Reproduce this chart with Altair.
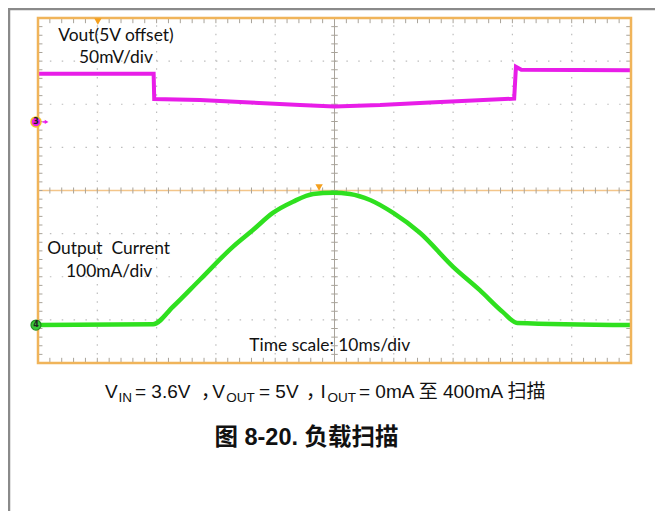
import altair as alt
import numpy as np
import pandas as pd

# ---------------- data ----------------
# time in ms (10 ms/div, 10 divisions), amplitude in screen divisions (0..8)
vout_t = [0, 19.5, 19.6, 27.3, 35.8, 44.2, 50.0, 57.7, 66.1, 80.3, 80.6, 81.5, 100]
vout_div = [6.71, 6.71, 6.12, 6.10, 6.04, 5.98, 5.95, 5.98, 6.04, 6.13, 6.87, 6.80, 6.79]

iout_t = [0, 19.4, 22.8, 27.3, 32.9, 36.3, 39.6, 43.0, 46.4, 49.7, 52.6, 56.0,
          59.9, 64.4, 70.0, 74.5, 78.4, 80.8, 100]
iout_div = [0.88, 0.90, 1.31, 1.93, 2.70, 3.09, 3.48, 3.74, 3.92, 3.95, 3.92, 3.78,
            3.48, 3.02, 2.23, 1.69, 1.18, 0.93, 0.88]

labels = ["Vout(5V offset)", "50mV/div", "Output\u00a0 Current", "100mA/div", "Time scale: 10ms/div"]
label_t = [13.15, 13.15, 11.9, 12.0, 49.2]
label_div = [7.47, 6.95, 2.53, 2.0, 0.285]

# ---------------- scales ----------------
W, H = 593, 345
xs = alt.Scale(domain=[0, 100], nice=False, zero=False)
ys = alt.Scale(domain=[0, 8], nice=False, zero=False)

FRAME = "#f0b45a"
GRID = "#bdbdbd"
TICK = "#a8a39a"
MAG = "#e81de8"
GRN = "#2fe01f"
FONT = "Lato"


def X(f="x"):
    return alt.X(f, type="quantitative", scale=xs, axis=None)


def Y(f="y"):
    return alt.Y(f, type="quantitative", scale=ys, axis=None)


layers = []

# dotted grid
hg = pd.DataFrame({"y": [1, 2, 3, 5, 6, 7], "x": 0, "x2": 100})
layers.append(alt.Chart(hg).mark_rule(color=GRID, strokeWidth=1.2, strokeDash=[1.5, 10.36]).encode(
    x=X("x"), x2="x2", y=Y("y")))
vg = pd.DataFrame({"x": [10, 20, 30, 40, 60, 70, 80, 90], "y": 0, "y2": 8})
layers.append(alt.Chart(vg).mark_rule(color=GRID, strokeWidth=1.2, strokeDash=[1.5, 7.125]).encode(
    x=X("x"), y=Y("y"), y2="y2"))

# center cross
layers.append(alt.Chart(pd.DataFrame({"x": [50], "y": [0], "y2": [8]})).mark_rule(
    color="#a9a49c", strokeWidth=1).encode(x=X("x"), y=Y("y"), y2="y2"))
layers.append(alt.Chart(pd.DataFrame({"x": [0], "x2": [100], "y": [4]})).mark_rule(
    color="#f3c58a", strokeWidth=1.3).encode(x=X("x"), x2="x2", y=Y("y")))

# minor ticks
tx = np.arange(0, 100.001, 2.0)
ty = np.arange(0, 8.001, 0.2)
tick_frames = [
    pd.DataFrame({"x": tx, "x2": tx, "y": 0.0, "y2": 0.12}),
    pd.DataFrame({"x": tx, "x2": tx, "y": 8.0, "y2": 7.88}),
    pd.DataFrame({"x": tx, "x2": tx, "y": 3.93, "y2": 4.07}),
    pd.DataFrame({"x": 0.0, "x2": 0.75, "y": ty, "y2": ty}),
    pd.DataFrame({"x": 100.0, "x2": 99.2, "y": ty, "y2": ty}),
    pd.DataFrame({"x": 49.45, "x2": 50.55, "y": ty, "y2": ty}),
]
ticks = pd.concat(tick_frames, ignore_index=True)
layers.append(alt.Chart(ticks).mark_rule(color=TICK, strokeWidth=1).encode(
    x=X("x"), x2="x2", y=Y("y"), y2="y2"))

# traces
vdf = pd.DataFrame({"t": vout_t, "v": vout_div, "o": range(len(vout_t))})
layers.append(alt.Chart(vdf).mark_line(color=MAG, strokeWidth=4).encode(
    x=X("t"), y=Y("v"), order="o:Q"))
idf = pd.DataFrame({"t": iout_t, "v": iout_div, "o": range(len(iout_t))})
layers.append(alt.Chart(idf).mark_line(color=GRN, strokeWidth=4.5, interpolate="monotone").encode(
    x=X("t"), y=Y("v"), order="o:Q"))

# frame
layers.append(alt.Chart(pd.DataFrame({"x": [0], "x2": [100], "y": [0], "y2": [8]})).mark_rect(
    fill="transparent", stroke=FRAME, strokeWidth=2.5).encode(x=X("x"), x2="x2", y=Y("y"), y2="y2"))

# trigger markers
layers.append(alt.Chart(pd.DataFrame({"x": [10.1, 47.4], "y": [7.92, 4.07]})).mark_point(
    shape="triangle-down", filled=True, color="#f5a01e", size=55, opacity=1).encode(x=X("x"), y=Y("y")))

# channel markers
layers.append(alt.Chart(pd.DataFrame({"x": [0.75], "x2": [1.4], "y": [5.59]})).mark_rule(
    color=MAG, strokeWidth=1.5).encode(x=X("x"), x2="x2", y=Y("y")))
layers.append(alt.Chart(pd.DataFrame({"x": [1.45], "y": [5.59]})).mark_point(
    shape="triangle-right", filled=True, color=MAG, size=18, opacity=1).encode(x=X("x"), y=Y("y")))
layers.append(alt.Chart(pd.DataFrame({"x": [-0.34], "y": [5.59]})).mark_point(
    shape="circle", filled=True, fill=MAG, stroke="#f5c02a", strokeWidth=1.5, size=100, opacity=1).encode(
    x=X("x"), y=Y("y")))
layers.append(alt.Chart(pd.DataFrame({"x": [-0.34], "y": [0.88]})).mark_point(
    shape="circle", filled=True, fill="#38c838", stroke="#1f8f1f", strokeWidth=1.2, size=100, opacity=1).encode(
    x=X("x"), y=Y("y")))
layers.append(alt.Chart(pd.DataFrame({"x": [-0.34, -0.34], "y": [5.59, 0.88], "s": ["3", "4"]})).mark_text(
    fontSize=8, fontWeight="bold", color="#222", font="DejaVu Sans").encode(x=X("x"), y=Y("y"), text="s:N"))

# annotations inside the screen
adf = pd.DataFrame({"t": label_t, "v": label_div, "s": labels})
layers.append(alt.Chart(adf).mark_text(font=FONT, fontSize=17.4, color="#111", align="center",
                                       baseline="alphabetic").encode(x=X("t"), y=Y("v"), text="s:N"))

# outer grey frame of the page figure
one = pd.DataFrame({"a": [0]})
layers.append(alt.Chart(one).mark_rule(color="#8a8a8a", strokeWidth=2.5).encode(
    x=alt.value(-30), x2=alt.value(W + 24), y=alt.value(-9)))
layers.append(alt.Chart(one).mark_rule(color="#8a8a8a", strokeWidth=2.5).encode(
    x=alt.value(-29), y=alt.value(-9), y2=alt.value(H + 150)))


# caption (positions in plot pixels)
def txt(s, px, py, size, weight="normal", align="left"):
    return alt.Chart(one).mark_text(text=s, font="Liberation Sans, Noto Sans CJK SC", fontSize=size,
                                    fontWeight=weight, color="#111", align=align,
                                    baseline="alphabetic").encode(x=alt.value(px), y=alt.value(py))


cap_y = 380
sub_y = 384
CS = 19
SS = 13.5
layers += [
    txt("V", 67, cap_y, CS),
    txt("IN", 80.5, sub_y, SS),
    txt("= 3.6V", 97, cap_y, CS),
    txt("，", 163, cap_y, CS),
    txt("V", 174.2, cap_y, CS),
    txt("OUT", 188.2, sub_y, SS),
    txt("= 5V", 221, cap_y, CS),
    txt("，", 268, cap_y, CS),
    txt("I", 282.5, cap_y, CS),
    txt("OUT", 289.5, sub_y, SS),
    txt("= 0mA 至 400mA 扫描", 321, cap_y, CS),
    txt("图 8-20. 负载扫描", 268.5, 427, 23.5, weight="bold", align="center"),
]

chart = alt.layer(*layers).properties(
    width=W, height=H,
    padding={"left": 30, "top": 10, "right": 24, "bottom": 148},
    autosize=alt.AutoSizeParams(type="none"),
    background="white",
).configure_view(stroke=None)

chart.save("out.html", embed_options={"renderer": "svg", "actions": False})
